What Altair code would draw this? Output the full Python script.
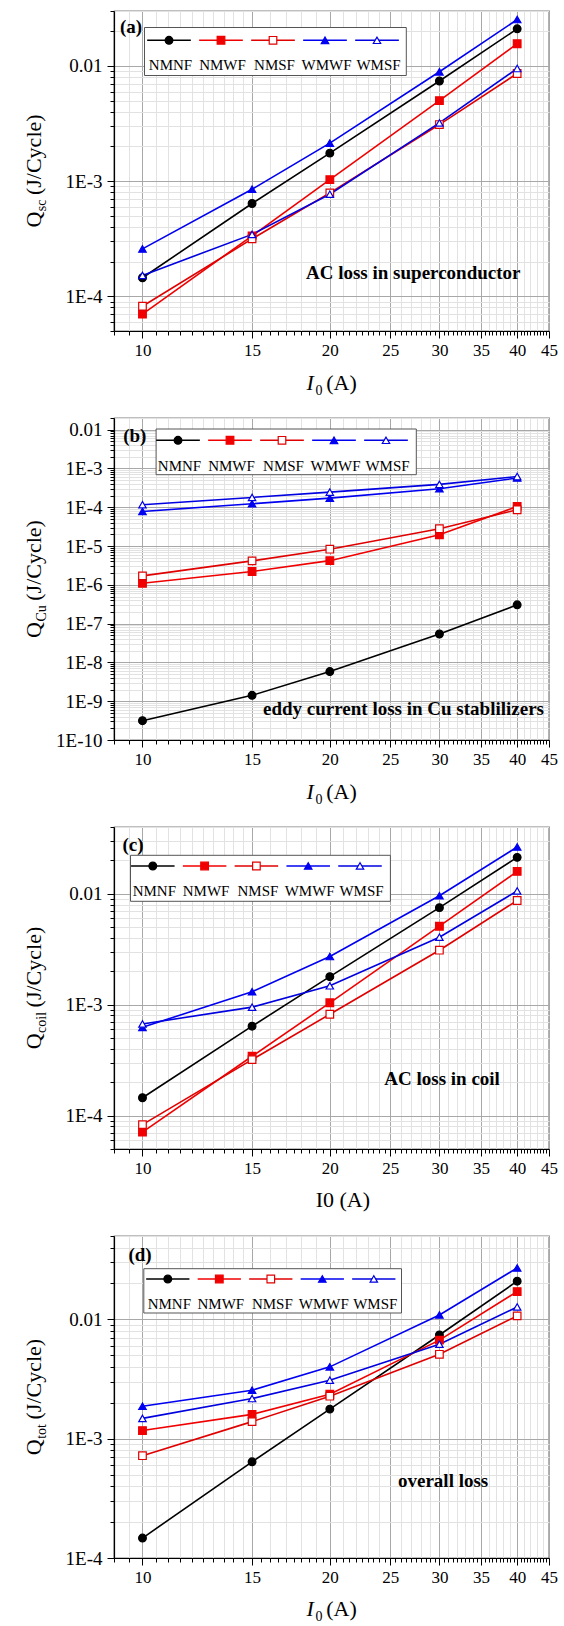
import altair as alt
import pandas as pd

FONT = "Liberation Serif"

I0 = [10, 15, 20, 30, 40]
SERIES = ["NMNF", "NMWF", "NMSF", "WMWF", "WMSF"]

# (a) AC loss in superconductor, J/cycle
QSC_NMNF = [1.45e-4, 6.4e-4, 1.75e-3, 7.4e-3, 2.1e-2]
QSC_NMWF = [7.0e-5, 3.35e-4, 1.03e-3, 5.0e-3, 1.56e-2]
QSC_NMSF = [8.2e-5, 3.15e-4, 7.9e-4, 3.1e-3, 8.6e-3]
QSC_WMWF = [2.58e-4, 8.5e-4, 2.14e-3, 8.9e-3, 2.53e-2]
QSC_WMSF = [1.52e-4, 3.45e-4, 7.7e-4, 3.2e-3, 9.5e-3]

# (b) eddy current loss in Cu stabilizers, J/cycle
QCU_NMNF = [3.15e-10, 1.42e-9, 5.8e-9, 5.4e-8, 3.05e-7]
QCU_NMWF = [1.10e-6, 2.2e-6, 4.2e-6, 1.95e-5, 1.05e-4]
QCU_NMSF = [1.7e-6, 4.15e-6, 8.3e-6, 2.8e-5, 8.6e-5]
QCU_WMWF = [7.8e-5, 1.23e-4, 1.72e-4, 3.0e-4, 5.7e-4]
QCU_WMSF = [1.16e-4, 1.79e-4, 2.46e-4, 3.9e-4, 6.2e-4]

# (c) AC loss in coil, J/cycle
QCOIL_NMNF = [1.45e-4, 6.4e-4, 1.79e-3, 7.5e-3, 2.13e-2]
QCOIL_NMWF = [7.1e-5, 3.43e-4, 1.04e-3, 5.1e-3, 1.59e-2]
QCOIL_NMSF = [8.3e-5, 3.2e-4, 8.2e-4, 3.1e-3, 8.7e-3]
QCOIL_WMWF = [6.25e-4, 1.31e-3, 2.72e-3, 9.6e-3, 2.64e-2]
QCOIL_WMSF = [6.7e-4, 9.5e-4, 1.48e-3, 4.06e-3, 1.06e-2]

# (d) overall loss, J/cycle
QTOT_NMNF = [1.47e-4, 6.4e-4, 1.77e-3, 7.4e-3, 2.09e-2]
QTOT_NMWF = [1.17e-3, 1.6e-3, 2.36e-3, 6.7e-3, 1.71e-2]
QTOT_NMSF = [7.2e-4, 1.39e-3, 2.27e-3, 5.1e-3, 1.07e-2]
QTOT_WMWF = [1.87e-3, 2.55e-3, 4.0e-3, 1.09e-2, 2.7e-2]
QTOT_WMSF = [1.48e-3, 2.17e-3, 3.09e-3, 6.2e-3, 1.27e-2]

W, H = 435, 322
X_TICKS = [v / 2 for v in range(18, 91)]

STROKE = alt.Scale(domain=SERIES, range=["#000000", "#f00000", "#e00000", "#0000f0", "#0000e0"])
FILL = alt.Scale(domain=SERIES, range=["#000000", "#f00000", "#ffffff", "#0000f0", "#ffffff"])
SHAPE = alt.Scale(domain=SERIES, range=["circle", "square", "square", "triangle-up", "triangle-up"])
SIZE = alt.Scale(domain=SERIES, range=[60, 55, 55, 75, 75])

ONE = pd.DataFrame({"k": [0]})


def log_ticks(lo, hi):
    out = []
    for e in range(-12, 2):
        for m in range(1, 10):
            v = m * 10.0 ** e
            if lo * 0.999 <= v <= hi * 1.001:
                out.append(v)
    return out


LOG10 = "(log(datum.value)/LN10)"
MAJOR_Y = f"abs({LOG10} - round({LOG10})) < 0.001"
Y_LABEL = f"{MAJOR_Y} ? (round({LOG10}) == -2 ? '0.01' : '1E' + round({LOG10})) : ''"


def y_axis(lo, hi):
    return alt.Axis(
        values=log_ticks(lo, hi), labelExpr=Y_LABEL, title=None,
        labelFont=FONT, labelFontSize=19, labelColor="black", labelPadding=5,
        labelOverlap=False, tickColor="black", tickWidth=1,
        tickSize={"condition": {"test": MAJOR_Y, "value": 7}, "value": 4},
        domainColor="black", domainWidth=1.2, grid=True, gridWidth=1,
        gridColor={"condition": {"test": MAJOR_Y, "value": "#a8a8a8"}, "value": "#e2e2e2"},
    )


def x_axis():
    return alt.Axis(
        values=X_TICKS, labelExpr="datum.value % 5 == 0 ? '' + datum.value : ''",
        title=None, labelFont=FONT, labelFontSize=17, labelColor="black",
        labelPadding=4, labelOverlap=False, labelFlush=False,
        tickColor="black", tickWidth=1,
        tickSize={"condition": {"test": "datum.value % 5 == 0", "value": 7}, "value": 4},
        domainColor="black", domainWidth=1.2, grid=True, gridWidth=1,
        gridColor={"condition": {"test": "datum.value % 5 == 0", "value": "#a8a8a8"}, "value": "#e2e2e2"},
        gridOpacity={"condition": {"test": "datum.value % 1 != 0 && datum.value > 15", "value": 0}, "value": 1},
    )


def txt(s, x, y, size, **kw):
    return alt.Chart(ONE).mark_text(
        text=s, font=FONT, fontSize=size, color="black", **kw
    ).encode(x=alt.value(x), y=alt.value(y))


def series_frame(values):
    rows = []
    for name, vals in zip(SERIES, values):
        for i, v in zip(I0, vals):
            rows.append({"I0": i, "Q": v, "series": name})
    return pd.DataFrame(rows)


def legend(box, m0, step, line_y, label_y):
    ldf = pd.DataFrame({"series": SERIES, "idx": list(range(len(SERIES)))})
    lscale = alt.Scale(domain=[0, 4], range=[m0, m0 + 4 * step])
    rect = alt.Chart(ONE).mark_rect(fill="white", stroke="#555555", strokeWidth=1).encode(
        x=alt.value(box[0]), x2=alt.value(box[1]), y=alt.value(box[2]), y2=alt.value(box[3])
    )
    base = alt.Chart(ldf).transform_calculate(lo="datum.idx - 0.42", hi="datum.idx + 0.42")
    rules = base.mark_rule(strokeWidth=1.6).encode(
        x=alt.X("lo:Q", scale=lscale, axis=None), x2="hi:Q", y=alt.value(line_y),
        stroke=alt.Stroke("series:N", scale=STROKE, legend=None),
    )
    pts = base.mark_point(opacity=1, fillOpacity=1, strokeWidth=1.2).encode(
        x=alt.X("idx:Q", scale=lscale, axis=None), y=alt.value(line_y),
        stroke=alt.Stroke("series:N", scale=STROKE, legend=None),
        fill=alt.Fill("series:N", scale=FILL, legend=None),
        shape=alt.Shape("series:N", scale=SHAPE, legend=None),
        size=alt.Size("series:N", scale=SIZE, legend=None),
    )
    labels = base.mark_text(font=FONT, fontSize=15, color="black", baseline="middle", dx=1.5).encode(
        x=alt.X("idx:Q", scale=lscale, axis=None), y=alt.value(label_y), text="series:N"
    )
    return alt.layer(rect, rules, pts, labels)


SUB_EM = {"sc": 0.833, "Cu": 1.167, "coil": 1.5, "tot": 1.056}


def y_title(sub, h):
    qw, pw, sw, gap = 0.722 * 22, 3.666 * 22, SUB_EM[sub] * 14, 5
    start = h / 2 + (qw + sw + gap + pw) / 2
    bx = -72.7
    return [
        txt("Q", bx, start, 22, angle=270, align="left", baseline="alphabetic"),
        txt(sub, bx + 5, start - qw - 0.5, 14, angle=270, align="left", baseline="alphabetic"),
        txt("(J/Cycle)", bx, start - qw - sw - gap, 22, angle=270, align="left", baseline="alphabetic"),
    ]


def x_title(h, plain=False, cx=W / 2, base_dy=59):
    if plain:
        return [txt("I0 (A)", cx, h + base_dy, 22, align="center", baseline="alphabetic")]
    x0 = cx - 25
    return [
        txt("I", x0, h + base_dy, 22, align="left", baseline="alphabetic", fontStyle="italic"),
        txt("0", x0 + 8.9, h + base_dy + 4.5, 14, align="left", baseline="alphabetic"),
        txt("(A)", x0 + 19.7, h + base_dy, 22, align="left", baseline="alphabetic"),
    ]


def panel(values, ydom, sub, tag, tag_xy, note, note_xy, leg, h=H, plain=False, xt_cx=W / 2, xt_dy=59):
    df = series_frame(values)
    xs = alt.Scale(type="log", domain=[9, 45], nice=False)
    ys = alt.Scale(type="log", domain=ydom, nice=False)
    base = alt.Chart(df)
    lines = base.mark_line(strokeWidth=1.6).encode(
        x=alt.X("I0:Q", scale=xs, axis=x_axis()),
        y=alt.Y("Q:Q", scale=ys, axis=y_axis(*ydom)),
        stroke=alt.Stroke("series:N", scale=STROKE, legend=None),
    )
    pts = base.mark_point(opacity=1, fillOpacity=1, strokeWidth=1.2).encode(
        x=alt.X("I0:Q", scale=xs),
        y=alt.Y("Q:Q", scale=ys),
        stroke=alt.Stroke("series:N", scale=STROKE, legend=None),
        fill=alt.Fill("series:N", scale=FILL, legend=None),
        shape=alt.Shape("series:N", scale=SHAPE, legend=None),
        size=alt.Size("series:N", scale=SIZE, legend=None),
    )
    data_layer = alt.layer(lines, pts)
    texts = [
        txt(tag, tag_xy[0], tag_xy[1], 19, fontWeight="bold", align="left", baseline="middle"),
        txt(note, note_xy[0], note_xy[1], 19, fontWeight="bold", align="left", baseline="middle"),
    ]
    layers = [data_layer, legend(*leg)] + texts + y_title(sub, h) + x_title(h, plain, xt_cx, xt_dy)
    return alt.layer(*layers).resolve_scale(x="independent").properties(width=W, height=h)


p_a = panel(
    [QSC_NMNF, QSC_NMWF, QSC_NMSF, QSC_WMWF, QSC_WMSF], [5e-5, 0.03], "sc",
    "(a)", (6, 16), "AC loss in superconductor", (192, 262),
    ((30.5, 292.3, 16.5, 64.5), 55, 52, 29.3, 54.2), h=320,
)
p_b = panel(
    [QCU_NMNF, QCU_NMWF, QCU_NMSF, QCU_WMWF, QCU_WMSF], [1e-10, 0.02], "Cu",
    "(b)", (9.2, 18), "eddy current loss in Cu stablilizers", (149, 291),
    ((42.1, 302.3, 11, 56.7), 64, 52, 22.3, 47.7),
)
p_c = panel(
    [QCOIL_NMNF, QCOIL_NMWF, QCOIL_NMSF, QCOIL_WMWF, QCOIL_WMSF], [5e-5, 0.04], "coil",
    "(c)", (8.5, 17.5), "AC loss in coil", (270.3, 252),
    ((16.5, 276.4, 28.3, 74.3), 38.8, 51.8, 39, 64.3),
    plain=True, xt_cx=228.9, xt_dy=58,
)
p_d = panel(
    [QTOT_NMNF, QTOT_NMWF, QTOT_NMSF, QTOT_WMWF, QTOT_WMSF], [1e-4, 0.05], "tot",
    "(d)", (14.4, 19), "overall loss", (284, 245),
    ((29.8, 287.5, 32.7, 77), 53.8, 51.5, 43, 68),
    xt_dy=58,
)

chart = (
    alt.vconcat(p_a, p_b, p_c, p_d, spacing=87, bounds="flush")
    .properties(padding={"left": 22, "top": 1, "right": 5, "bottom": 2}, background="white")
    .configure_view(stroke="black", strokeWidth=1.2)
)

chart.save("out.html", embed_options={"renderer": "svg", "actions": False})
